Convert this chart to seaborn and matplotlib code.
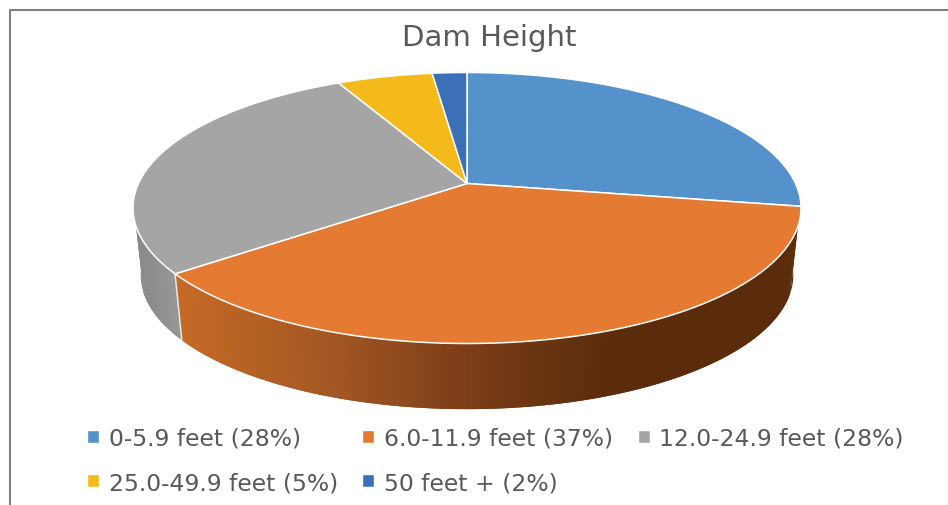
import numpy as np
import matplotlib
matplotlib.use("Agg")
import matplotlib.pyplot as plt
from matplotlib.patches import Patch
from matplotlib.colors import to_rgb
import seaborn as sns

# --- data ---
categories = ["0-5.9 feet", "6.0-11.9 feet", "12.0-24.9 feet", "25.0-49.9 feet", "50 feet +"]
shares = [27.7, 36.8, 28.0, 5.5, 2.0]
share_labels = [28, 37, 28, 5, 2]
colors = ["#5592CB", "#E57B32", "#A5A5A5", "#F4B91A", "#3B6FB8"]
title = "Dam Height"

# --- projection of the tilted disc, in figure pixels ---
CX, APEX_Y = 467.0, 184.5
PERSP, RX, RY = 0.1808, 328.5, 131.07
ELL_Y, BOT_Y, BOT_XS, BOT_YS = 209.0, 276.0, 0.977, 0.99


def top_rim(theta):
    u, v = np.sin(theta), np.cos(theta)
    d = 1 + PERSP * v
    return CX + RX * u / d, APEX_Y - RY * v / d


def bottom_rim(theta):
    x, y = top_rim(theta)
    return CX + (x - CX) * BOT_XS, BOT_Y + (y - ELL_Y) * BOT_YS


sns.set_theme(style="white")
plt.rcParams["font.family"] = ["DejaVu Sans"]
palette = sns.color_palette(colors)

fig = plt.figure(figsize=(9.48, 5.06), dpi=100)
ax = fig.add_axes([0, 0, 1, 1])
ax.set_xlim(0, 948)
ax.set_ylim(506, 0)
ax.axis("off")

edges = 2 * np.pi * np.concatenate([[0], np.cumsum(shares)]) / sum(shares)


def wall_colour(i, x):
    if i == 1:
        stops_x, stops = [180, 340, 450, 610], ["#C46A26", "#A05522", "#7F3F19", "#5A2C0B"]
    else:
        stops_x, stops = [135, 180], ["#898989", "#999999"]
    rgb = np.array([to_rgb(c) for c in stops])
    return [np.interp(x, stops_x, rgb[:, k]) for k in range(3)]


# side wall: only the parts that face the viewer
WALL_FROM, WALL_TO = np.radians(108), np.radians(252)
CAP = np.radians(12)
for i, (a, b) in enumerate(zip(edges[:-1], edges[1:])):
    lo, hi = max(a, WALL_FROM), min(b, WALL_TO)
    if hi <= lo:
        continue
    steps = np.linspace(lo, hi, int((hi - lo) * 90) + 2)
    for s0, s1 in zip(steps[:-1], steps[1:]):
        # each strip overlaps the next so no seams show
        t = np.array([s0, min(s1 + 0.012, hi)])
        xt, yt = top_rim(t)
        xb, yb = bottom_rim(t)
        col = wall_colour(i, xt.mean())
        ax.fill(np.r_[xt, xb[::-1]], np.r_[yt, yb[::-1]], color=col, lw=0, zorder=1)
    # seam on the wall at a slice boundary
    if lo == a and a > WALL_FROM:
        xt, yt = top_rim(a)
        xb, yb = bottom_rim(a)
        ax.plot([xt, xb], [yt, yb], color="#E8E8E8", lw=1.1, zorder=2)

# tapered ends of the wall where it meets the silhouette of the disc
for i, t0, t1 in ((1, WALL_FROM, WALL_FROM - CAP), (2, WALL_TO, WALL_TO + CAP)):
    xt, yt = top_rim(t0)
    xb, yb = bottom_rim(np.linspace(t0, t1, 30))
    ax.fill(np.r_[xt, xb], np.r_[yt, yb], color=wall_colour(i, xt), lw=0, zorder=1)

# top surface
for i, (a, b) in enumerate(zip(edges[:-1], edges[1:])):
    t = np.linspace(a, b, 200)
    x, y = top_rim(t)
    ax.fill(np.r_[CX, x], np.r_[APEX_Y, y], facecolor=palette[i],
            edgecolor="white", lw=1.1, joinstyle="round", zorder=3)

# chart frame
ax.plot([948, 10, 10], [11, 11, 506], color="#7F7F7F", lw=1.5, zorder=0)

ax.text(489, 38, title, ha="center", va="center", fontsize=21, color="#595959")

# legend: filled by column, so order the entries to read across
labels = [f"{c} ({s}%)" for c, s in zip(categories, share_labels)]
handles = [Patch(facecolor=palette[i], label=labels[i]) for i in range(5)]
order = [0, 3, 1, 4, 2]
ax.legend([handles[i] for i in order], [labels[i] for i in order], ncols=3,
          loc="upper left", bbox_to_anchor=(87 / 948, 1 - 428 / 506),
          frameon=False, fontsize=16.9, labelcolor="#595959",
          handlelength=0.5, handleheight=0.5, handletextpad=0.42,
          columnspacing=1.05, labelspacing=0.9, borderpad=0, borderaxespad=0)

fig.savefig("out.png", dpi=100)
